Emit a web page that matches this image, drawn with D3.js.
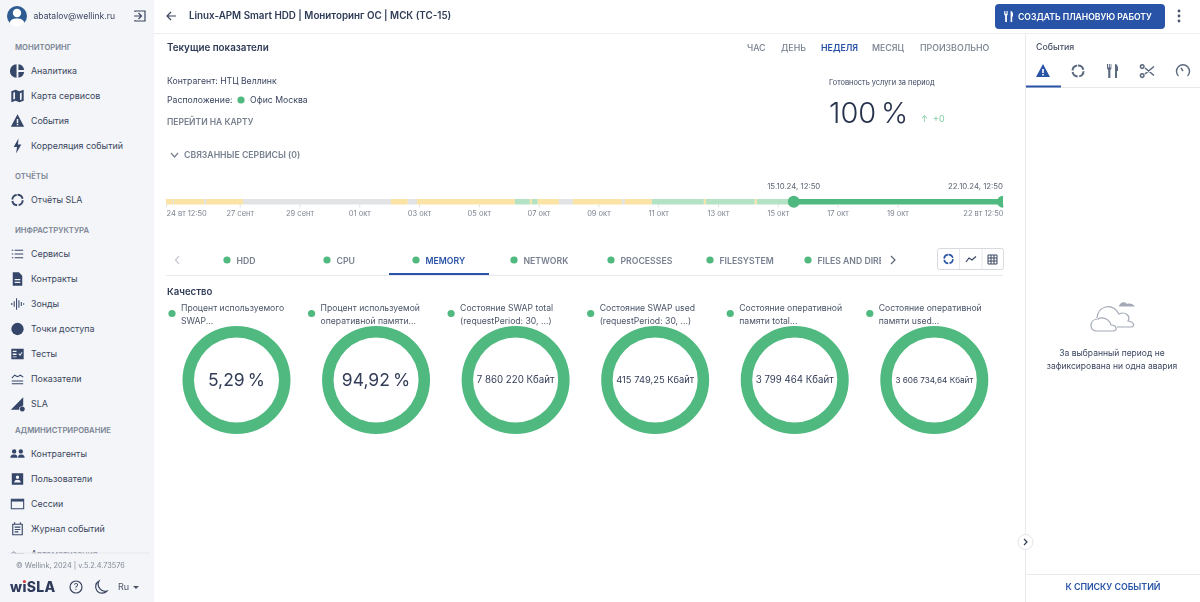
<!DOCTYPE html>
<html>
<head>
<meta charset="utf-8">
<script src="https://cdn.jsdelivr.net/npm/d3@7"></script>
<style>
  html, body { margin: 0; padding: 0; background: #fff; overflow: hidden; }
  svg { display: block; font-family: Inter, "Noto Sans", sans-serif; filter: blur(0.35px); }
</style>
</head>
<body>
<script>
// sidebar
const sections = ["МОНИТОРИНГ", "ОТЧЁТЫ", "ИНФРАСТРУКТУРА", "АДМИНИСТРИРОВАНИЕ"];
const sectionItems = [
  ["Аналитика", "Карта сервисов", "События", "Корреляция событий"],
  ["Отчёты SLA"],
  ["Сервисы", "Контракты", "Зонды", "Точки доступа", "Тесты", "Показатели", "SLA"],
  ["Контрагенты", "Пользователи", "Сессии", "Журнал событий", "Автоматизация"],
];
const sectionIcons = [
  ["pie", "map", "warn", "bolt"],
  ["ring"],
  ["list", "doc", "probe", "dot", "tests", "gauge", "sla"],
  ["people", "card", "window", "calendar", "key"],
];

// top
const periods = ["ЧАС", "ДЕНЬ", "НЕДЕЛЯ", "МЕСЯЦ", "ПРОИЗВОЛЬНО"];
const activePeriod = "НЕДЕЛЯ";

// timeline: status changes, each one lasts until the next
const statusStart = [
  "2024-09-24 12:50", "2024-09-24 18:30", "2024-09-24 19:15", "2024-09-25 19:20", "2024-09-25 21:00",
  "2024-09-27 02:40", "2024-10-02 01:25", "2024-10-02 15:00", "2024-10-02 22:20", "2024-10-06 05:00",
  "2024-10-06 17:00", "2024-10-06 18:35", "2024-10-06 23:20", "2024-10-07 16:15", "2024-10-08 03:30",
  "2024-10-09 18:50", "2024-10-09 21:15", "2024-10-10 18:55", "2024-10-12 12:40", "2024-10-12 14:15",
  "2024-10-14 05:35", "2024-10-14 07:10", "2024-10-15 12:50",
];
const statusKind = [
  "warn", "none", "warn", "none", "warn",
  "none", "warn", "none", "warn", "ok",
  "warn", "ok", "warn", "none", "warn",
  "none", "warn", "ok", "warn", "ok",
  "warn", "ok", "selected",
];
const timelineEnd = "2024-10-22 12:50";
const brushDates = ["2024-10-15 12:50", "2024-10-22 12:50"];
const brushLabels = ["15.10.24, 12:50", "22.10.24, 12:50"];
const timeTicks = ["2024-09-24 12:50", "2024-09-27 00:00", "2024-09-29 00:00", "2024-10-01 00:00", "2024-10-03 00:00",
  "2024-10-05 00:00", "2024-10-07 00:00", "2024-10-09 00:00", "2024-10-11 00:00", "2024-10-13 00:00",
  "2024-10-15 00:00", "2024-10-17 00:00", "2024-10-19 00:00", "2024-10-22 12:50"];
const timeTickLabels = ["24 вт 12:50", "27 сент", "29 сент", "01 окт", "03 окт", "05 окт", "07 окт", "09 окт",
  "11 окт", "13 окт", "15 окт", "17 окт", "19 окт", "22 вт 12:50"];

// tabs
const tabs = ["HDD", "CPU", "MEMORY", "NETWORK", "PROCESSES", "FILESYSTEM", "FILES AND DIRECTORIES"];
const activeTab = "MEMORY";

// rings
const ringTitles = [
  ["Процент используемого", "SWAP..."],
  ["Процент используемой", "оперативной памяти..."],
  ["Состояние SWAP total", "(requestPeriod: 30, ...)"],
  ["Состояние SWAP used", "(requestPeriod: 30, ...)"],
  ["Состояние оперативной", "памяти total..."],
  ["Состояние оперативной", "памяти used..."],
];
const ringValues = ["5,29 %", "94,92 %", "7 860 220 Кбайт", "415 749,25 Кбайт", "3 799 464 Кбайт", "3 606 734,64 Кбайт"];
const ringQuality = [100, 100, 100, 100, 100, 100];

const w = 1200;
const h = 602;
const ink = "#2f3b57";
const grey = "#78818f";
const blue = "#2853a6";
const green = "#4fb97f";
const statusColor = { warn: "#fbe3a6", none: "#e2e3e5", ok: "#b3e2c5", selected: green };

// icons, drawn around 0,0
const icons = {
  pie: [["f", "M-1-7A7 7 0 0 0-1 7ZM1-7A7 7 0 0 1 7-1H1ZM1 1H7A7 7 0 0 1 1 7Z"]],
  map: [["f", "M-6.500-5 -2-6.500 2-5 6.500-6.500V5L2 6.500-2 5-6.500 6.500ZM-2.600-4.200-4.400-3.500V3.800L-2.600 3.200ZM4.400-3.600 2.600-3V4.200L4.400 3.600Z"]],
  warn: [["f", "M0-7 7 6H-7ZM-.8-2V2H.8V-2ZM-.8 3V4.600H.8V3Z"]],
  bolt: [["f", "M1-8-4 1H-.5L-1.500 8 4-1.500H.5Z"]],
  ring: [["s", "M0-5.500A5.500 5.500 0 1 1 0 5.500A5.500 5.500 0 1 1 0-5.500", "7 1.600", 2]],
  list: [["s", "M-3-4H6M-3 0H6M-3 4H6M-6-4H-4.500M-6 0H-4.500M-6 4H-4.500", null, 1.200]],
  doc: [["f", "M-5-7H1.500L5-3.500V7H-5ZM-3 0V1.200H3V0ZM-3 3V4.200H3V3Z"]],
  probe: [["s", "M-6-1V1M-3.500-3V3M-1-6V6M1.500-4V4M4-2V2M6.500-.8V.8", null, 1.100]],
  dot: [["f", "M0-6.500A6.500 6.500 0 1 1 0 6.500A6.500 6.500 0 1 1 0-6.500"]],
  tests: [["f", "M-6.500-5.500H6.500V5.500H-6.500ZM-5-3.500V-2H-1V-3.500ZM-5-.5V1H-1V-.5ZM-5 2.500V3.500H-1V2.500ZM1 0 2.800 2 5.200-1.500 4.400-2.200 2.700.5 1.800-.8Z"]],
  gauge: [["s", "M-6-1-3-4 0-2.500 3-4 6-2M-6 2H6M-6 5H6", null, 1.100]],
  sla: [["f", "M6-7V1.500L2 3.500 1.500 6H-7ZM5 2.500A2.700 2.700 0 1 0 5.010 2.500Z"]],
  people: [["f", "M-3.500-5A2.300 2.300 0 1 1-3.500-.4A2.300 2.300 0 1 1-3.500-5ZM3.500-5A2.300 2.300 0 1 1 3.500-.4A2.300 2.300 0 1 1 3.500-5ZM-7.500 4C-7.500 1-5 .6-3.500.6S0 1 0 4ZM.6 4C.6 1.500 1.500.6 3.500.6 5 .6 7.500 1 7.500 4Z"]],
  card: [["f", "M-6-6H6V6H-6ZM0-3.600A1.800 1.800 0 1 0 0 0A1.800 1.800 0 1 0 0-3.600ZM-3.500 3.800H3.500C3.500 1.500 1.500.8 0 .8S-3.500 1.500-3.500 3.800Z"]],
  window: [["s", "M-6.500-5H6.500V5H-6.500Z", null, 1.100], ["f", "M-6.500-5H6.500V-2.600H-6.500Z"]],
  calendar: [["s", "M-5-5H5V6H-5ZM-3-2H3M-3 .5H3M-3 3H1M-3-7V-4.500M3-7V-4.500", null, 1.200]],
  key: [["s", "M-6 0A2 2 0 1 0-2 0A2 2 0 1 0-6 0M-2 0H7M4 0V2", null, 1]],
  tools: [["f", "M-5-7V-3.500H-4.200V-7H-3.200V-3.500H-2.400V-7H-1.600V-2.500L-2.600-1V7H-4.800V-1L-6-2.500V-7ZM2-7C4-7 5-5 5-3V0H4V7H2Z"]],
  scissors: [["s", "M-4-4.500A1.800 1.800 0 1 0-4-4.400M-4 4.500A1.800 1.800 0 1 0-4 4.600M-3-3 6 4.500M-3 3 6-4.500", null, 1.600]],
  speed: [["s", "M-4.500 5A6.500 6.500 0 1 1 4.500 5M0 0-2-3", null, 1.400]],
};

const svg = d3.select("body").append("svg").attr("width", w).attr("height", h);

function label(parent, x, y, str, size, color, weight, anchor) {
  return parent.append("text")
    .attr("x", x).attr("y", y).attr("dy", "0.35em")
    .attr("font-size", size).attr("fill", color)
    .attr("font-weight", weight || 400)
    .attr("text-anchor", anchor || "start")
    .text(str);
}

function icon(parent, name, x, y, color, scale) {
  const g = parent.append("g").attr("transform", `translate(${x},${y}) scale(${scale || 1})`);
  icons[name].forEach(([mode, d, dash, sw]) => {
    const p = g.append("path").attr("d", d).attr("fill-rule", "evenodd");
    if (mode === "f") p.attr("fill", color);
    else p.attr("fill", "none").attr("stroke", color).attr("stroke-width", sw).attr("stroke-dasharray", dash);
  });
  return g;
}

// sidebar
const side = svg.append("g");
side.append("rect").attr("width", 154).attr("height", h).attr("fill", "#f3f5f8");
svg.append("clipPath").attr("id", "menuClip").append("rect").attr("width", 154).attr("height", 553.500);
const menu = side.append("g").attr("clip-path", "url(#menuClip)");
const sectionY = [47, 176, 230, 430];
sections.forEach((name, s) => {
  label(menu, 15, sectionY[s], name, 7.700, "#7a8494", 600);
  sectionItems[s].forEach((item, i) => {
    const y = sectionY[s] + 24 + i * 25;
    icon(menu, sectionIcons[s][i], 17.500, y, "#364668", 0.95);
    label(menu, 31, y, item, 8.900, "#3b4660");
  });
});
side.append("line").attr("x1", 8).attr("x2", 150).attr("y1", 553).attr("y2", 553).attr("stroke", "#e7e9ee");

side.append("circle").attr("cx", 17).attr("cy", 16).attr("r", 10).attr("fill", "#2f5b93");
side.append("circle").attr("cx", 17).attr("cy", 13).attr("r", 4.200).attr("fill", "#fff");
side.append("path").attr("d", "M9.500 23C11 19 14 18.500 17 18.500S23 19 24.500 23A10 10 0 0 1 9.500 23Z").attr("fill", "#fff");
label(side, 33.500, 16, "abatalov@wellink.ru", 8.600, "#3b4660");
side.append("path").attr("d", "M135 12V11H145V21H135V20M134 16H141M138.500 13 141.500 16 138.500 19")
  .attr("fill", "none").attr("stroke", "#3b4660").attr("stroke-width", 1.200);

label(side, 16, 565, "© Wellink, 2024 | v.5.2.4.73576", 7.300, "#808896");
const logo = label(side, 10, 587, "wiSLA", 14, "#2f3b5c", 800).attr("letter-spacing", 0.300);
const iBox = logo.node().getExtentOfChar(1);
side.append("circle")
  .attr("cx", iBox.x + (iBox.width - 0.3) / 2)
  .attr("cy", 581.500)
  .attr("r", 1.500)
  .attr("fill", "#d8413d");
side.append("circle").attr("cx", 76).attr("cy", 587).attr("r", 6).attr("fill", "none").attr("stroke", "#3b4660").attr("stroke-width", 1.200);
label(side, 76, 587, "?", 9, "#3b4660", 500, "middle");
side.append("path").attr("d", "M99 581A6.500 6.500 0 1 0 107 591A7 7 0 0 1 99 581Z")
  .attr("fill", "none").attr("stroke", "#3b4660").attr("stroke-width", 1.200);
label(side, 118, 587, "Ru", 9, "#4a5468");
side.append("path").attr("d", "M133 586H139L136 589Z").attr("fill", "#4a5468");

// header
svg.append("line").attr("x1", 154).attr("x2", w).attr("y1", 33.500).attr("y2", 33.500).attr("stroke", "#eceef1");
svg.append("path").attr("d", "M176 16H167M171 12 167 16 171 20").attr("fill", "none").attr("stroke", "#3b4660").attr("stroke-width", 1.200);
label(svg, 189, 16, "Linux-APM Smart HDD | Мониторинг ОС | МСК (TC-15)", 9.800, ink, 600);
svg.append("rect").attr("x", 995).attr("y", 4).attr("width", 170).attr("height", 25).attr("rx", 4).attr("fill", blue);
icon(svg, "tools", 1009, 16.500, "#fff", 0.8);
label(svg, 1018, 16.500, "СОЗДАТЬ ПЛАНОВУЮ РАБОТУ", 8.600, "#fff", 600);
svg.selectAll(".kebab").data(d3.range(3)).join("circle")
  .attr("cx", 1179).attr("cy", (d) => 11 + d * 5).attr("r", 1.400).attr("fill", "#4a5468");

// current values block
label(svg, 167, 48, "Текущие показатели", 9.800, ink, 600);
const periodX = [747, 781, 821, 872, 920];
periods.forEach((p, i) => {
  label(svg, periodX[i], 48, p, 8.800, p === activePeriod ? blue : grey, p === activePeriod ? 600 : 500);
});
label(svg, 167, 81, "Контрагент: НТЦ Веллинк", 8.700, "#3b4660");
label(svg, 167, 100, "Расположение:", 8.700, "#3b4660");
svg.append("circle").attr("cx", 241).attr("cy", 100).attr("r", 3.600).attr("fill", green);
label(svg, 250, 100, "Офис Москва", 8.700, "#3b4660");
label(svg, 167, 122, "ПЕРЕЙТИ НА КАРТУ", 8.500, grey, 600);
label(svg, 829, 82, "Готовность услуги за период", 7.400, "#3b4660");
label(svg, 829, 113, "100 %", 29, "#27324d", 300).attr("word-spacing", -3.500);
label(svg, 921, 119, "↑", 8.500, "#7fcb9f");
label(svg, 933, 119, "+0", 9, "#7fcb9f");
svg.append("path").attr("d", "M171 153 174.500 157 178 153").attr("fill", "none").attr("stroke", grey).attr("stroke-width", 1.200);
label(svg, 184, 155, "СВЯЗАННЫЕ СЕРВИСЫ (0)", 8.700, grey, 600);

// timeline
const parseTime = d3.timeParse("%Y-%m-%d %H:%M");
const x = d3.scaleTime()
  .domain([parseTime(statusStart[0]), parseTime(timelineEnd)])
  .range([166, 1003]);
const barTop = 199;
const barH = 5.500;

const segmentEnds = statusStart.slice(1).concat(timelineEnd);
svg.append("g").selectAll("rect")
  .data(statusStart)
  .join("rect")
  .attr("x", (d) => x(parseTime(d)))
  .attr("y", barTop)
  .attr("width", (d, i) => x(parseTime(segmentEnds[i])) - x(parseTime(d)))
  .attr("height", barH)
  .attr("fill", (d, i) => statusColor[statusKind[i]]);

const axis = d3.axisBottom(x)
  .tickValues(timeTicks.map(parseTime))
  .tickFormat((d, i) => timeTickLabels[i])
  .tickSize(3)
  .tickPadding(3);
const axisG = svg.append("g").attr("transform", `translate(0,${barTop + barH})`).call(axis);
axisG.select(".domain").remove();
axisG.selectAll("line").attr("stroke", "#e0e2e6");
axisG.selectAll("text")
  .attr("font-family", "Inter, 'Noto Sans', sans-serif")
  .attr("font-size", 7.500)
  .attr("fill", "#7d8593")
  .attr("text-anchor", (d, i) => (i === 0 ? "start" : i === timeTicks.length - 1 ? "end" : "middle"));

svg.append("clipPath").attr("id", "brushClip").append("rect")
  .attr("x", 150).attr("y", 180).attr("width", 853).attr("height", 40);
svg.append("g").attr("clip-path", "url(#brushClip)").selectAll("circle")
  .data(brushDates)
  .join("circle")
  .attr("cx", (d) => x(parseTime(d)))
  .attr("cy", barTop + barH / 2)
  .attr("r", 6)
  .attr("fill", green);
brushDates.forEach((d, i) => {
  label(svg, x(parseTime(d)), 186, brushLabels[i], 7.800, "#5c6574", 400, i === 0 ? "middle" : "end");
});

// tabs
const tabDotX = [227, 327, 416, 514, 611, 710, 808];
svg.append("clipPath").attr("id", "tabClip").append("rect").attr("x", 180).attr("y", 245).attr("width", 701).attr("height", 30);
const tabG = svg.append("g").attr("clip-path", "url(#tabClip)");
tabs.forEach((t, i) => {
  tabG.append("circle").attr("cx", tabDotX[i]).attr("cy", 260).attr("r", 3.600).attr("fill", green);
  label(tabG, tabDotX[i] + 9.500, 260.500, t, 8.700, t === activeTab ? blue : grey, 600);
});
svg.append("line").attr("x1", 166).attr("x2", 1003).attr("y1", 275.500).attr("y2", 275.500).attr("stroke", "#e8eaed");
svg.append("rect").attr("x", 389).attr("y", 273).attr("width", 100).attr("height", 2).attr("fill", blue);
svg.append("path").attr("d", "M179 256 175.500 260 179 264").attr("fill", "none").attr("stroke", "#c6cad1").attr("stroke-width", 1.200);
svg.append("path").attr("d", "M891 256 895 260 891 264").attr("fill", "none").attr("stroke", "#5c6574").attr("stroke-width", 1.200);

svg.append("rect").attr("x", 937.500).attr("y", 248.500).attr("width", 66).attr("height", 21).attr("rx", 2).attr("fill", "#fff").attr("stroke", "#d6d9de");
svg.append("path").attr("d", "M959.500 249V269M982 249V269").attr("stroke", "#e6e8eb");
icon(svg, "ring", 948.500, 259, blue, 0.8);
svg.append("path").attr("d", "M966 262 969 258 972 260 976 256.500").attr("fill", "none").attr("stroke", "#3b4660").attr("stroke-width", 1.200);
svg.append("path").attr("d", "M988 255H997V264H988ZM988 258H997M988 261H997M991 255V264M994 255V264").attr("fill", "none").attr("stroke", "#3b4660").attr("stroke-width", 1);

// rings
label(svg, 167, 292, "Качество", 9.600, ink, 600);
const ringX = d3.scalePoint().domain(d3.range(ringValues.length)).range([236.500, 934.300]);
const ringCy = 380;
const ringAngle = d3.scaleLinear().domain([0, 100]).range([0, 2 * Math.PI]);
const ringArc = d3.arc().innerRadius(42.500).outerRadius(54);

ringValues.forEach((value, i) => {
  const g = svg.append("g");
  const cx = ringX(i);
  g.append("circle").attr("cx", cx - 64.500).attr("cy", 313.500).attr("r", 3.600).attr("fill", green);
  ringTitles[i].forEach((line, k) => {
    label(g, cx - 55.500, 308 + k * 13, line, 8.650, "#4a5468");
  });
  g.append("path")
    .attr("transform", `translate(${cx},${ringCy})`)
    .attr("d", ringArc({ startAngle: 0, endAngle: ringAngle(ringQuality[i]) }))
    .attr("fill", green);
  const t = label(g, cx, ringCy, value, 17.500, "#333d58", 400, "middle");
  const len = t.node().getComputedTextLength();
  if (len > 78) t.attr("font-size", 17.500 * 78 / len);
  else t.attr("word-spacing", "-0.1em");
});

// events panel
svg.append("line").attr("x1", 1025.500).attr("x2", 1025.500).attr("y1", 34).attr("y2", h).attr("stroke", "#e8eaed");
label(svg, 1036, 47, "События", 8.800, "#4a5468", 500);
icon(svg, "warn", 1043, 71, blue, 1);
icon(svg, "ring", 1078, 71, "#5c6a80", 1);
icon(svg, "tools", 1113, 71, "#5c6a80", 1);
icon(svg, "scissors", 1148, 71, "#5c6a80", 1);
icon(svg, "speed", 1183, 71, "#5c6a80", 1);
svg.append("line").attr("x1", 1026).attr("x2", w).attr("y1", 87.500).attr("y2", 87.500).attr("stroke", "#e8eaed");
svg.append("rect").attr("x", 1026).attr("y", 85.500).attr("width", 35).attr("height", 2).attr("fill", blue);

// empty state clouds
const cloudLine = (sel) => sel.attr("fill", "none").attr("stroke", "#a3aab5").attr("stroke-width", 1.200);
cloudLine(svg.append("path"))
  .attr("d", "M1097 318C1098 306 1112 302 1119 314C1125 311 1131 316 1128 321C1135 322 1135 327 1131 327H1117");
cloudLine(svg.append("path"))
  .attr("d", "M1096 331C1089 331 1089 319 1098 319C1103 316 1110 320 1111 325C1117 325 1118 331 1113 331Z");
svg.append("path")
  .attr("d", "M1119 306C1120 302 1125 301 1127 304C1130 303 1133 304 1135 306.500H1119Z")
  .attr("fill", "#a3aab5");
label(svg, 1112, 353, "За выбранный период не", 8.500, "#3b4660", 400, "middle");
label(svg, 1112, 366, "зафиксирована ни одна авария", 8.500, "#3b4660", 400, "middle");

svg.append("circle").attr("cx", 1025.500).attr("cy", 542).attr("r", 7.500).attr("fill", "#fff").attr("stroke", "#e3e5e9");
svg.append("path").attr("d", "M1024 539 1027 542 1024 545").attr("fill", "none").attr("stroke", "#333d58").attr("stroke-width", 1.200);
svg.append("line").attr("x1", 1026).attr("x2", w).attr("y1", 574.500).attr("y2", 574.500).attr("stroke", "#e8eaed");
label(svg, 1113, 587, "К СПИСКУ СОБЫТИЙ", 8.800, blue, 600, "middle");
</script>
</body>
</html>
